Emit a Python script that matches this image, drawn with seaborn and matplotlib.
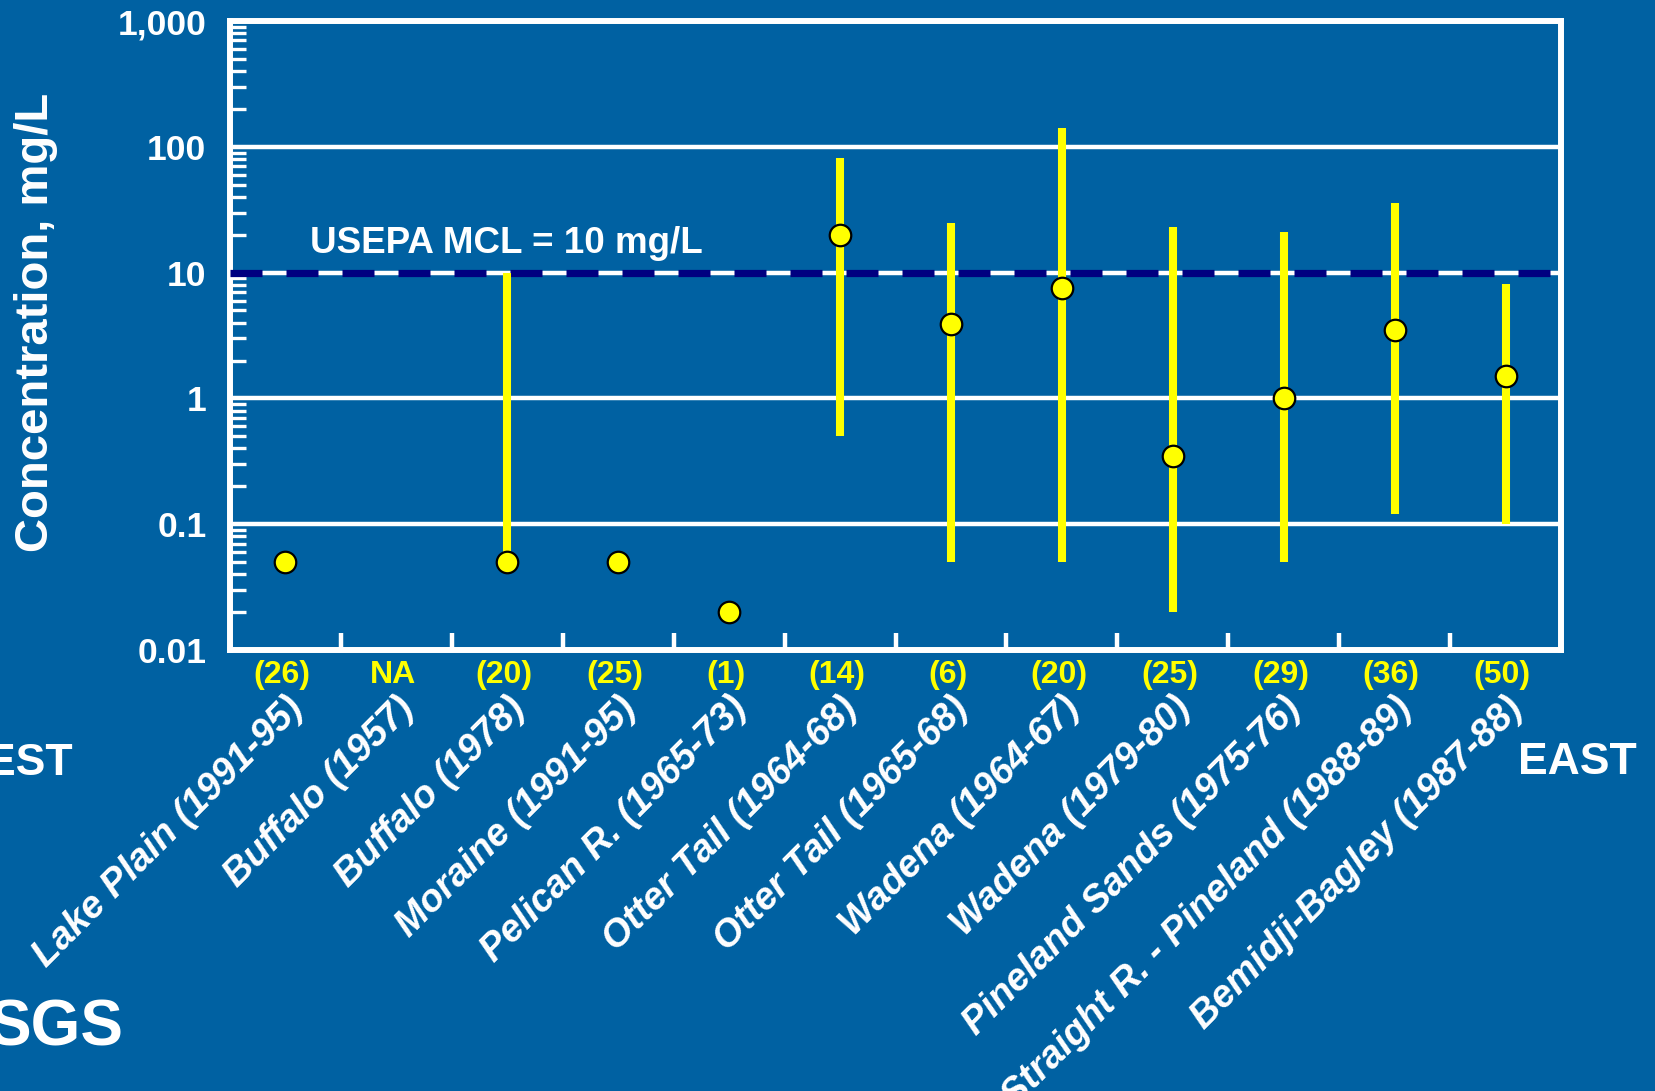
import numpy as np
import pandas as pd
import matplotlib
matplotlib.use("Agg")
import matplotlib.pyplot as plt
import matplotlib.transforms as mtransforms
from matplotlib.ticker import FixedLocator, FuncFormatter, LogLocator, NullFormatter
import seaborn as sns

# Nitrate concentration by aquifer study area, west to east
categories = [
    "Lake Plain (1991-95)",
    "Buffalo (1957)",
    "Buffalo (1978)",
    "Moraine (1991-95)",
    "Pelican R. (1965-73)",
    "Otter Tail (1964-68)",
    "Otter Tail (1965-68)",
    "Wadena (1964-67)",
    "Wadena (1979-80)",
    "Pineland Sands (1975-76)",
    "Straight R. - Pineland (1988-89)",
    "Bemidji-Bagley (1987-88)",
]
sample_counts = ["(26)", "NA", "(20)", "(25)", "(1)", "(14)", "(6)",
                 "(20)", "(25)", "(29)", "(36)", "(50)"]
median_conc = [0.05, np.nan, 0.05, 0.05, 0.02, 20, 3.9, 7.5, 0.35, 1.0, 3.5, 1.5]
low_conc = [np.nan, np.nan, 0.05, np.nan, np.nan, 0.5, 0.05, 0.05, 0.02, 0.05, 0.12, 0.1]
high_conc = [np.nan, np.nan, 10, np.nan, np.nan, 82, 25, 140, 23, 21, 36, 8.1]
mcl_value = 10
y_ticks = [0.01, 0.1, 1, 10, 100, 1000]
y_tick_labels = ["0.01", "0.1", "1", "10", "100", "1,000"]

BG = "#0061A2"
YELLOW = "#FFFF00"
NAVY = "#000080"
WHITE = "white"

sns.set_theme(style="white")
plt.rcParams["font.family"] = ["Liberation Sans", "DejaVu Sans"]
plt.rcParams["font.weight"] = "bold"

df = pd.DataFrame({"site": categories, "median": median_conc,
                   "low": low_conc, "high": high_conc, "n": sample_counts})

fig = plt.figure(figsize=(16.56, 10.91), dpi=100, facecolor=BG)
ax = fig.add_axes([230 / 1656, 1 - 650 / 1091, 1331 / 1656, 629 / 1091])
ax.set_facecolor(BG)

# median points
sns.stripplot(data=df, x="site", y="median", order=categories, jitter=False,
              color=YELLOW, edgecolor="black", linewidth=1.6, size=15.5,
              log_scale=True, zorder=6, ax=ax)

ax.set_yscale("log")
ax.set_ylim(0.01, 1000)
ax.set_xlim(-0.5, len(categories) - 0.5)

# min-max range bars
rng = df.dropna(subset=["low", "high"])
pos = [categories.index(s) for s in rng["site"]]
ax.vlines(pos, rng["low"], rng["high"], color=YELLOW, linewidth=5.8,
          capstyle="butt", zorder=4)

# decade gridlines
ax.set_axisbelow(True)
ax.yaxis.set_major_locator(FixedLocator(y_ticks))
ax.yaxis.set_major_formatter(FuncFormatter(
    lambda v, p: dict(zip(y_ticks, y_tick_labels)).get(v, "")))
ax.yaxis.set_minor_locator(LogLocator(base=10, subs=np.arange(2, 10)))
ax.yaxis.set_minor_formatter(NullFormatter())
ax.grid(axis="y", which="major", color=WHITE, linewidth=3.2)
ax.grid(axis="x", visible=False)

# drinking-water limit
ax.axhline(mcl_value, color=NAVY, linewidth=5.2,
           linestyle=(0, (32 * 0.72 / 5.2, 24 * 0.72 / 5.2)), zorder=3)
ax.text(0.06, 0.631, "USEPA MCL = 10 mg/L", transform=ax.transAxes,
        color=WHITE, fontsize=26.5, fontweight="bold", ha="left", va="baseline")

# spines
for sp in ax.spines.values():
    sp.set_visible(True)
    sp.set_color(WHITE)
    sp.set_linewidth(4.3)

ax.tick_params(axis="y", which="major", length=0, pad=17, labelsize=25.5,
               labelcolor=WHITE)
ax.tick_params(axis="y", which="minor", direction="in", length=11.5, width=2.4,
               color=WHITE, left=True)
ax.tick_params(axis="y", labelleft=True)

# category ticks: separators between sites, names below
ax.xaxis.set_minor_locator(FixedLocator(np.arange(0.5, len(categories) - 1, 1.0)))
ax.tick_params(axis="x", which="minor", direction="in", length=12, width=3.2,
               color=WHITE, bottom=True)
ax.tick_params(axis="x", which="major", length=0, pad=38, labelsize=27.5,
               labelcolor=WHITE)
ax.set_xticks(range(len(categories)))
ax.set_xticklabels(categories, rotation=45, ha="right", va="center",
                   rotation_mode="anchor", fontstyle="italic", fontweight="bold")
shift = mtransforms.ScaledTranslation(12 / 100, 0, fig.dpi_scale_trans)
for lab in ax.get_xticklabels():
    lab.set_transform(lab.get_transform() + shift)

# sample counts under each site
for i, n in enumerate(sample_counts):
    ax.text(i - 0.03, -25 / 629, n, transform=mtransforms.blended_transform_factory(
        ax.transData, ax.transAxes), color=YELLOW, fontsize=23,
        fontweight="bold", ha="center", va="center")

ax.set_xlabel("")
ax.set_ylabel("Concentration, mg/L", color=WHITE, fontsize=34,
              fontweight="bold", va="center")
ax.yaxis.set_label_coords(-0.1458, 0.5215)

fig.text(1518 / 1656, 1 - 774 / 1091, "EAST", color=WHITE, fontsize=32,
         fontweight="bold", ha="left", va="baseline")
fig.text(73 / 1656, 1 - 775 / 1091, "EST", color=WHITE, fontsize=32,
         fontweight="bold", ha="right", va="baseline")
fig.text(123 / 1656, 1 - 1045 / 1091, "SGS", color=WHITE, fontsize=46,
         fontweight="heavy", ha="right", va="baseline")

fig.savefig("out.png", dpi=100, facecolor=BG)
